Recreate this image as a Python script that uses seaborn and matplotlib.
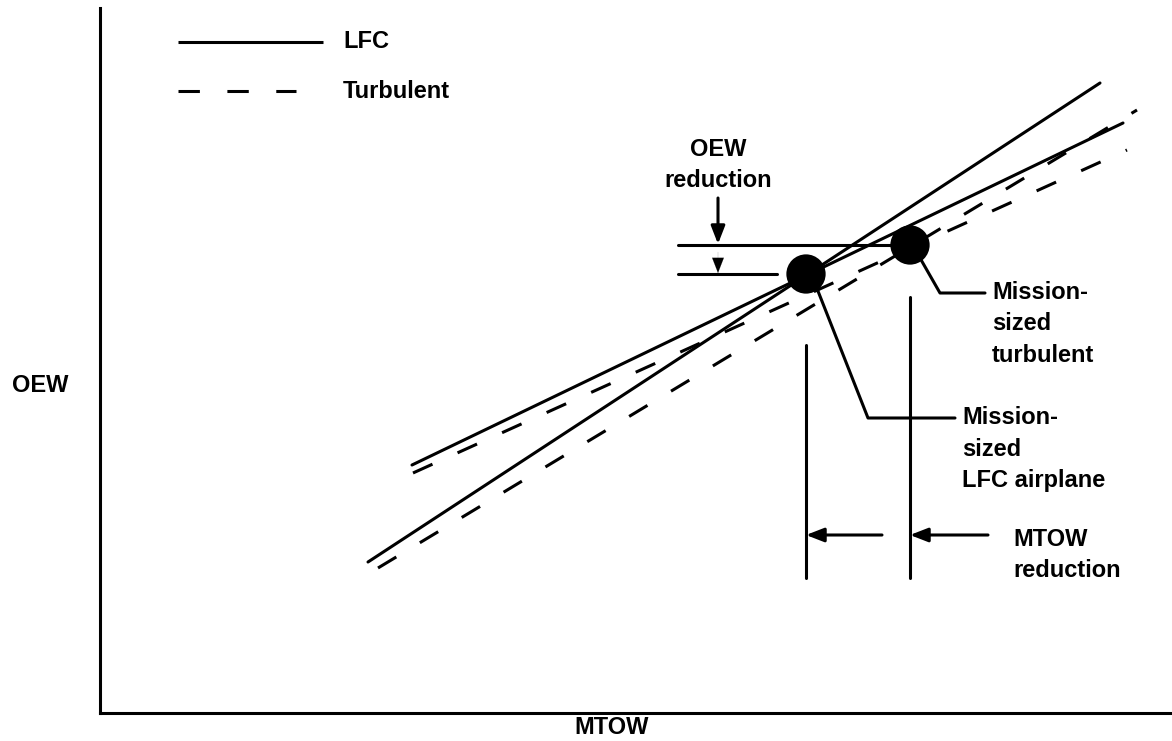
import matplotlib
matplotlib.use("Agg")
import matplotlib.pyplot as plt
import seaborn as sns
import pandas as pd

# Sizing trend lines (MTOW vs OEW), two endpoints each
line_names = ["LFC steep", "LFC shallow", "Turbulent steep", "Turbulent shallow"]
line_kind = ["LFC", "LFC", "Turbulent", "Turbulent"]
mtow_start = [368, 412, 378, 413]
mtow_end = [1100, 1123, 1137, 1127]
oew_start = [179, 276, 173, 268]
oew_end = [658, 618, 631, 591]

# Mission-sized design points
point_names = ["LFC", "Turbulent"]
point_mtow = [806, 910]
point_oew = [467, 496]

# Extent of the MTOW reduction marker lines
mtow_marker_low = 163
mtow_marker_top = [396, 444]
mtow_arrow_level = 206
oew_arrow_x = 718

sns.set_theme(style="white")
plt.rcParams["font.family"] = ["Liberation Sans", "DejaVu Sans"]
plt.rcParams["font.weight"] = "bold"
plt.rcParams["text.color"] = "black"
plt.rcParams["axes.labelcolor"] = "black"

W, H = 1172, 741
fig = plt.figure(figsize=(W / 100, H / 100), dpi=100)
ax = fig.add_axes([100 / W, 28 / H, 1072 / W, 705 / H])
ax.set_xlim(100, 1172)
ax.set_ylim(28, 733)

LW = 2.2
DASH = (0, (7, 9))
FS = 17

rows = []
for name, kind, x0, x1, y0, y1 in zip(line_names, line_kind, mtow_start, mtow_end, oew_start, oew_end):
    rows.append(dict(line=name, kind=kind, MTOW=x0, OEW=y0))
    rows.append(dict(line=name, kind=kind, MTOW=x1, OEW=y1))
lines_df = pd.DataFrame(rows)

for name, sub in lines_df.groupby("line", sort=False):
    ls = "-" if sub["kind"].iloc[0] == "LFC" else DASH
    sns.lineplot(data=sub, x="MTOW", y="OEW", ax=ax, color="black", lw=LW,
                 linestyle=ls, estimator=None, sort=False, legend=False)

pts = pd.DataFrame(dict(design=point_names, MTOW=point_mtow, OEW=point_oew))
sns.scatterplot(data=pts, x="MTOW", y="OEW", ax=ax, color="black", s=800,
                edgecolor="none", legend=False, zorder=5)

# Legend drawn as line samples with labels
ax.plot([178, 323], [699, 699], color="black", lw=LW, solid_capstyle="butt")
ax.plot([178, 296], [650, 650], color="black", lw=LW, linestyle=DASH)
ax.text(343, 699, "LFC", fontsize=FS, fontweight="bold", va="center", ha="left")
ax.text(343, 650, "Turbulent", fontsize=FS, fontweight="bold", va="center", ha="left")

# OEW reduction dimension
lfc_x, turb_x = point_mtow
lfc_y, turb_y = point_oew
arrow = dict(arrowstyle="-|>,head_length=0.9,head_width=0.35", color="black",
             lw=LW, shrinkA=0, shrinkB=0)
ax.plot([678, 895], [turb_y, turb_y], color="black", lw=LW)
ax.plot([678, 777], [lfc_y, lfc_y], color="black", lw=LW)
ax.annotate("", xy=(oew_arrow_x, turb_y + 1), xytext=(oew_arrow_x, 543), arrowprops=arrow)
ax.annotate("", xy=(oew_arrow_x, lfc_y + 1), xytext=(oew_arrow_x, 489),
            arrowprops=dict(arrow, lw=0.1))
ax.text(oew_arrow_x, 576, "OEW\nreduction", fontsize=FS, fontweight="bold",
        ha="center", va="center", linespacing=1.45)

# MTOW reduction dimension
for x, top in zip(point_mtow, mtow_marker_top):
    ax.plot([x, x], [mtow_marker_low, top], color="black", lw=LW)
ax.annotate("", xy=(lfc_x, mtow_arrow_level), xytext=(882, mtow_arrow_level), arrowprops=arrow)
ax.annotate("", xy=(turb_x, mtow_arrow_level), xytext=(988, mtow_arrow_level), arrowprops=arrow)
ax.text(1013, 186, "MTOW\nreduction", fontsize=FS, fontweight="bold",
        ha="left", va="center", linespacing=1.45)

# Leaders to the design point callouts
ax.plot([920, 940, 985], [483, 448, 448], color="black", lw=LW)
ax.text(992, 417, "Mission-\nsized\nturbulent", fontsize=FS, fontweight="bold",
        ha="left", va="center", linespacing=1.45)
ax.plot([816, 868, 955], [455, 323, 323], color="black", lw=LW)
ax.text(962, 292, "Mission-\nsized\nLFC airplane", fontsize=FS, fontweight="bold",
        ha="left", va="center", linespacing=1.45)

# Axes frame and labels
for side in ["top", "right"]:
    ax.spines[side].set_visible(False)
for side in ["left", "bottom"]:
    ax.spines[side].set_linewidth(LW)
    ax.spines[side].set_color("black")
ax.set_xticks([])
ax.set_yticks([])
ax.set_xlabel("MTOW", fontsize=FS, fontweight="bold", va="center")
ax.set_ylabel("OEW", fontsize=FS, fontweight="bold", rotation=0, ha="center", va="center")
ax.xaxis.set_label_coords((612 - 100) / 1072, (14 - 28) / 705)
ax.yaxis.set_label_coords((40 - 100) / 1072, (356 - 28) / 705)

fig.savefig("out.png", dpi=100, facecolor="white")
